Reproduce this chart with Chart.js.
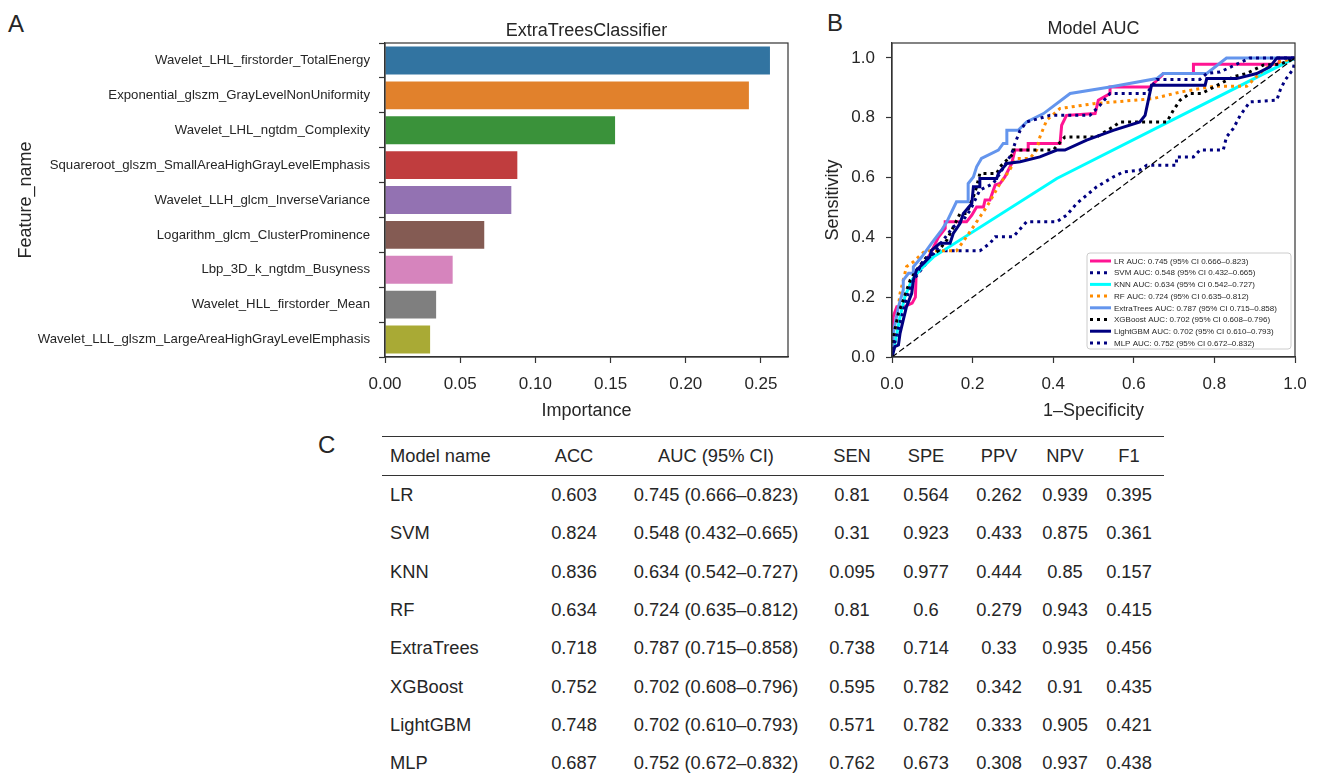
<!DOCTYPE html>
<html>
<head>
<meta charset="utf-8">
<script src="https://cdn.jsdelivr.net/npm/chart.js@4.4.1/dist/chart.umd.min.js"></script>
<style>
    body { margin: 0; background: #fff; width: 1320px; height: 775px; overflow: hidden; position: relative;
           font-family: "Liberation Sans", Arial, sans-serif; color: #262626; }
    .painel { position: absolute; font-size: 24px; line-height: 24px; }
    #caixaA { position: absolute; left: 0; top: 0; width: 800px; height: 430px; }
    #caixaB { position: absolute; left: 800px; top: 0; width: 520px; height: 430px; }
    #tabela { position: absolute; left: 382px; top: 436px; border-collapse: collapse; table-layout: fixed;
              font-size: 18.3px; border-top: 1.3px solid #333; }
    #tabela th, #tabela td { height: 38.3px; padding: 0; text-align: center; font-weight: normal; white-space: nowrap; }
    #tabela th { border-bottom: 1px solid #333; height: 38px; }
    #tabela .nome { text-align: left; padding-left: 8px; }
</style>
</head>
<body>
<div class="painel" style="left:8px; top:12px;">A</div>
<div class="painel" style="left:827px; top:11px;">B</div>
<div class="painel" style="left:318px; top:433px;">C</div>
<div id="caixaA"><canvas id="graficoA" width="800" height="430"></canvas></div>
<div id="caixaB"><canvas id="graficoB" width="520" height="430"></canvas></div>
<table id="tabela">
    <colgroup>
        <col style="width:148px"><col style="width:88px"><col style="width:196px"><col style="width:76px">
        <col style="width:72px"><col style="width:74px"><col style="width:58px"><col style="width:70px">
    </colgroup>
    <thead><tr id="cabecalho"></tr></thead>
    <tbody id="corpo"></tbody>
</table>
<script>
// ---- painel A: importancia das features
const features = [
    'Wavelet_LHL_firstorder_TotalEnergy',
    'Exponential_glszm_GrayLevelNonUniformity',
    'Wavelet_LHL_ngtdm_Complexity',
    'Squareroot_glszm_SmallAreaHighGrayLevelEmphasis',
    'Wavelet_LLH_glcm_InverseVariance',
    'Logarithm_glcm_ClusterProminence',
    'Lbp_3D_k_ngtdm_Busyness',
    'Wavelet_HLL_firstorder_Mean',
    'Wavelet_LLL_glszm_LargeAreaHighGrayLevelEmphasis'
];
const importancias = [0.256, 0.242, 0.153, 0.088, 0.084, 0.066, 0.045, 0.034, 0.030];
const ticksImportancia = [0, 0.05, 0.10, 0.15, 0.20, 0.25];

// ---- painel B: curvas ROC [1-especificidade, sensibilidade]
const curvaLR = [[0,0],[0.003,0.135],[0.012,0.168],[0.03,0.168],[0.05,0.18],[0.058,0.2],[0.06,0.28],[0.075,0.3],
    [0.095,0.345],[0.115,0.4],[0.132,0.43],[0.132,0.452],[0.185,0.452],[0.198,0.474],[0.21,0.502],[0.227,0.502],
    [0.231,0.525],[0.243,0.525],[0.256,0.575],[0.268,0.58],[0.28,0.602],[0.297,0.647],[0.305,0.692],[0.338,0.692],
    [0.338,0.714],[0.417,0.714],[0.421,0.775],[0.433,0.808],[0.504,0.814],[0.512,0.859],[0.541,0.881],[0.541,0.903],
    [0.64,0.903],[0.67,0.942],[0.673,0.948],[0.748,0.948],[0.748,0.979],[0.959,0.979],[0.963,1],[1,1]];
const curvaSVM = [[0,0],[0.003,0.035],[0.016,0.079],[0.024,0.168],[0.036,0.213],[0.053,0.257],[0.078,0.302],
    [0.111,0.355],[0.218,0.355],[0.243,0.38],[0.256,0.402],[0.301,0.402],[0.334,0.452],[0.409,0.452],[0.433,0.474],
    [0.458,0.513],[0.508,0.569],[0.549,0.602],[0.574,0.619],[0.615,0.625],[0.632,0.641],[0.706,0.641],[0.706,0.669],
    [0.748,0.669],[0.764,0.692],[0.822,0.692],[0.83,0.736],[0.847,0.764],[0.864,0.808],[0.888,0.853],[0.955,0.859],
    [0.963,0.892],[0.975,0.925],[0.996,0.964],[1,1]];
const curvaKNN = [[0,0],[0.003,0.018],[0.012,0.079],[0.02,0.135],[0.032,0.202],[0.049,0.257],[0.069,0.291],
    [0.103,0.335],[0.409,0.597],[1,1]];
const curvaRF = [[0,0],[0.007,0.09],[0.016,0.168],[0.02,0.213],[0.028,0.257],[0.036,0.302],[0.053,0.318],
    [0.082,0.355],[0.16,0.355],[0.185,0.402],[0.21,0.452],[0.235,0.502],[0.268,0.58],[0.289,0.619],[0.309,0.664],
    [0.342,0.664],[0.359,0.692],[0.367,0.736],[0.384,0.792],[0.417,0.831],[0.5,0.847],[0.648,0.864],[0.715,0.886],
    [0.797,0.905],[0.88,0.905],[0.921,0.959],[0.946,0.981],[1,1]];
const curvaExtraTrees = [[0,0],[0.003,0.079],[0.016,0.168],[0.028,0.224],[0.028,0.257],[0.041,0.28],[0.053,0.28],
    [0.053,0.302],[0.074,0.335],[0.098,0.38],[0.123,0.424],[0.136,0.452],[0.16,0.519],[0.189,0.519],[0.189,0.58],
    [0.202,0.602],[0.21,0.636],[0.222,0.664],[0.264,0.692],[0.276,0.714],[0.285,0.714],[0.285,0.758],[0.313,0.758],
    [0.334,0.786],[0.376,0.814],[0.442,0.881],[0.541,0.903],[0.657,0.931],[0.673,0.948],[0.781,0.948],[0.83,1],[1,1]];
const curvaXGBoost = [[0,0],[0.005,0.079],[0.016,0.146],[0.028,0.19],[0.045,0.257],[0.061,0.291],[0.086,0.335],
    [0.115,0.355],[0.136,0.391],[0.169,0.48],[0.185,0.48],[0.202,0.536],[0.21,0.569],[0.218,0.614],[0.26,0.614],
    [0.268,0.636],[0.301,0.68],[0.301,0.692],[0.4,0.692],[0.429,0.736],[0.508,0.736],[0.549,0.77],[0.566,0.786],
    [0.682,0.786],[0.698,0.825],[0.715,0.859],[0.739,0.881],[0.768,0.881],[0.847,0.937],[0.88,0.948],[0.921,0.976],
    [0.963,0.979],[1,1]];
const curvaLightGBM = [[0,0],[0.007,0.035],[0.016,0.04],[0.02,0.079],[0.028,0.124],[0.036,0.168],[0.049,0.213],
    [0.053,0.257],[0.061,0.291],[0.078,0.313],[0.094,0.335],[0.098,0.357],[0.119,0.38],[0.144,0.38],[0.152,0.413],
    [0.169,0.447],[0.177,0.48],[0.198,0.513],[0.202,0.569],[0.218,0.569],[0.218,0.597],[0.26,0.597],[0.264,0.614],
    [0.285,0.647],[0.318,0.653],[0.367,0.669],[0.409,0.692],[0.429,0.692],[0.483,0.725],[0.549,0.758],[0.615,0.786],
    [0.628,0.808],[0.644,0.909],[0.777,0.909],[0.781,0.931],[0.855,0.931],[0.905,0.948],[0.938,0.97],[0.955,1],[1,1]];
const curvaMLP = [[0,0],[0.003,0.029],[0.012,0.079],[0.024,0.135],[0.032,0.179],[0.045,0.229],[0.053,0.257],
    [0.066,0.291],[0.078,0.324],[0.103,0.346],[0.127,0.391],[0.152,0.435],[0.177,0.458],[0.194,0.491],[0.218,0.558],
    [0.251,0.58],[0.268,0.614],[0.297,0.68],[0.305,0.714],[0.318,0.758],[0.334,0.786],[0.392,0.808],[0.491,0.808],
    [0.516,0.842],[0.541,0.881],[0.632,0.881],[0.657,0.928],[0.764,0.928],[0.781,0.948],[0.814,0.953],[0.888,1],[1,1]];
const diagonal = [[0,0],[1,1]];
const ticksROC = [0, 0.2, 0.4, 0.6, 0.8, 1.0];

// ---- painel C: tabela de metricas
const nomesModelos = ['LR', 'SVM', 'KNN', 'RF', 'ExtraTrees', 'XGBoost', 'LightGBM', 'MLP'];
const colunasTabela = ['Model name', 'ACC', 'AUC (95% CI)', 'SEN', 'SPE', 'PPV', 'NPV', 'F1'];
const acc = ['0.603', '0.824', '0.836', '0.634', '0.718', '0.752', '0.748', '0.687'];
const aucIC = ['0.745 (0.666–0.823)', '0.548 (0.432–0.665)', '0.634 (0.542–0.727)', '0.724 (0.635–0.812)',
               '0.787 (0.715–0.858)', '0.702 (0.608–0.796)', '0.702 (0.610–0.793)', '0.752 (0.672–0.832)'];
const sen = ['0.81', '0.31', '0.095', '0.81', '0.738', '0.595', '0.571', '0.762'];
const spe = ['0.564', '0.923', '0.977', '0.6', '0.714', '0.782', '0.782', '0.673'];
const ppv = ['0.262', '0.433', '0.444', '0.279', '0.33', '0.342', '0.333', '0.308'];
const npv = ['0.939', '0.875', '0.85', '0.943', '0.935', '0.91', '0.905', '0.937'];
const f1 = ['0.395', '0.361', '0.157', '0.415', '0.456', '0.435', '0.421', '0.438'];

const FONTE = '"Liberation Sans", Arial, sans-serif';
const COR_TEXTO = '#262626';
const COR_EIXO = '#333333';

// tab10 dessaturado (paleta do seaborn)
const coresBarras = ['#3274a1', '#e1812c', '#3a923a', '#c03d3e', '#9372b2', '#845b53', '#d684bd', '#7f7f7f', '#a9aa35'];

// estilo de cada curva, na ordem de nomesModelos
const estilos = [
    { cor: '#ff1493', pontilhado: false },
    { cor: '#000080', pontilhado: true },
    { cor: '#00ffff', pontilhado: false },
    { cor: '#ff8c00', pontilhado: true },
    { cor: '#6495ed', pontilhado: false },
    { cor: '#000000', pontilhado: true },
    { cor: '#000080', pontilhado: false },
    { cor: '#000080', pontilhado: true }
];
const curvas = [curvaLR, curvaSVM, curvaKNN, curvaRF, curvaExtraTrees, curvaXGBoost, curvaLightGBM, curvaMLP];
const TRACO = [3, 4];

// moldura em volta da area do grafico
const moldura = {
    id: 'moldura',
    afterDatasetsDraw(chart) {
        const { ctx, chartArea: a } = chart;
        ctx.save();
        ctx.strokeStyle = COR_EIXO;
        ctx.lineWidth = 1.2;
        ctx.strokeRect(a.left, a.top, a.right - a.left, a.bottom - a.top);
        ctx.restore();
    }
};

// legenda dentro do grafico, canto inferior direito
const legendaInterna = {
    id: 'legendaInterna',
    afterDraw(chart) {
        const { ctx, chartArea: a } = chart;
        const largura = 204, altura = 96;
        const x0 = a.right - 4 - largura;
        const y0 = a.bottom - 8 - altura;
        ctx.save();
        ctx.beginPath();
        ctx.roundRect(x0, y0, largura, altura, 3);
        ctx.fillStyle = 'rgba(255,255,255,0.85)';
        ctx.fill();
        ctx.strokeStyle = '#cccccc';
        ctx.lineWidth = 1;
        ctx.stroke();
        ctx.font = '8px ' + FONTE;
        ctx.textBaseline = 'middle';
        nomesModelos.forEach((nome, i) => {
            const y = y0 + 8 + i * 11.7;
            const est = estilos[i];
            ctx.strokeStyle = est.cor;
            ctx.lineWidth = 3;
            ctx.lineCap = 'butt';
            ctx.setLineDash(est.pontilhado ? TRACO : []);
            ctx.beginPath();
            ctx.moveTo(x0 + 3, y);
            ctx.lineTo(x0 + 24, y);
            ctx.stroke();
            ctx.setLineDash([]);
            ctx.fillStyle = COR_TEXTO;
            ctx.fillText(nome + ' AUC: ' + aucIC[i].replace('(', '(95% CI '), x0 + 27, y + 0.5);
        });
        ctx.restore();
    }
};

function eixoComum(extra) {
    return Object.assign({
        grid: { drawOnChartArea: false, drawTicks: true, tickLength: 6, tickColor: COR_EIXO, tickWidth: 1.2 },
        border: { display: true, color: COR_EIXO, width: 1.2 }
    }, extra);
}

function graficoImportancia() {
    const ctx = document.getElementById('graficoA').getContext('2d');
    new Chart(ctx, {
        type: 'bar',
        data: {
            labels: features,
            datasets: [{
                data: importancias,
                backgroundColor: coresBarras,
                borderWidth: 0,
                barPercentage: 0.8,
                categoryPercentage: 1
            }]
        },
        options: {
            indexAxis: 'y',
            responsive: false,
            animation: false,
            layout: { padding: { left: 0, right: 12, top: 0, bottom: 0 } },
            plugins: {
                legend: { display: false },
                tooltip: { enabled: false },
                title: {
                    display: true, text: 'ExtraTreesClassifier', fullSize: false, color: COR_TEXTO,
                    font: { family: FONTE, size: 18, weight: 'normal' }, padding: { top: 20, bottom: 1.4 }
                }
            },
            scales: {
                x: eixoComum({
                    type: 'linear', min: 0, max: 0.268,
                    afterBuildTicks: s => { s.ticks = ticksImportancia.map(v => ({ value: v })); },
                    afterFit: s => { s.height = 73; },
                    ticks: { callback: v => v.toFixed(2), color: COR_TEXTO, font: { family: FONTE, size: 17 }, padding: 11, maxRotation: 0 },
                    title: { display: true, text: 'Importance', color: COR_TEXTO, font: { family: FONTE, size: 18 }, padding: { bottom: 8 } }
                }),
                y: eixoComum({
                    afterFit: s => { s.width = 385; },
                    ticks: { color: COR_TEXTO, font: { family: FONTE, size: 13.2 }, padding: 9, autoSkip: false },
                    title: { display: true, text: 'Feature_name', color: COR_TEXTO, font: { family: FONTE, size: 18 }, padding: { top: 15 } }
                })
            }
        },
        plugins: [moldura]
    });
}

function graficoROC() {
    const ctx = document.getElementById('graficoB').getContext('2d');
    const datasets = curvas.map((curva, i) => ({
        label: nomesModelos[i],
        data: curva.map(([x, y]) => ({ x, y })),
        borderColor: estilos[i].cor,
        borderWidth: 3,
        borderDash: estilos[i].pontilhado ? TRACO : [],
        borderCapStyle: 'butt',
        showLine: true,
        pointRadius: 0,
        tension: 0,
        order: 20 - i
    }));
    datasets.push({
        label: 'diagonal',
        data: diagonal.map(([x, y]) => ({ x, y })),
        borderColor: '#000000',
        borderWidth: 1.2,
        borderDash: [6, 3],
        showLine: true,
        pointRadius: 0,
        order: 0
    });
    new Chart(ctx, {
        type: 'scatter',
        data: { datasets: datasets },
        options: {
            responsive: false,
            animation: false,
            layout: { padding: { left: 0, right: 25, top: 0, bottom: 0 } },
            plugins: {
                legend: { display: false },
                tooltip: { enabled: false },
                title: {
                    display: true, text: 'Model AUC', fullSize: false, color: COR_TEXTO,
                    font: { family: FONTE, size: 18, weight: 'normal' }, padding: { top: 18, bottom: 3.4 }
                }
            },
            scales: {
                x: eixoComum({
                    type: 'linear', min: 0, max: 1,
                    afterBuildTicks: s => { s.ticks = ticksROC.map(v => ({ value: v })); },
                    afterFit: s => { s.height = 73; },
                    ticks: { callback: v => v.toFixed(1), color: COR_TEXTO, font: { family: FONTE, size: 17 }, padding: 11, maxRotation: 0 },
                    title: { display: true, text: '1–Specificity', color: COR_TEXTO, font: { family: FONTE, size: 18 }, padding: { bottom: 8 } }
                }),
                y: eixoComum({
                    type: 'linear', min: 0, max: 1.05,
                    afterBuildTicks: s => { s.ticks = ticksROC.map(v => ({ value: v })); },
                    afterFit: s => { s.width = 92; },
                    ticks: { callback: v => v.toFixed(1), color: COR_TEXTO, font: { family: FONTE, size: 17 }, padding: 11 },
                    title: { display: true, text: 'Sensitivity', color: COR_TEXTO, font: { family: FONTE, size: 18 }, padding: { top: 22 } }
                })
            }
        },
        plugins: [moldura, legendaInterna]
    });
}

function montarTabela() {
    const cab = document.getElementById('cabecalho');
    colunasTabela.forEach((c, i) => {
        const th = document.createElement('th');
        th.textContent = c;
        if (i === 0) th.className = 'nome';
        cab.appendChild(th);
    });
    const corpo = document.getElementById('corpo');
    nomesModelos.forEach((nome, i) => {
        const tr = document.createElement('tr');
        [nome, acc[i], aucIC[i], sen[i], spe[i], ppv[i], npv[i], f1[i]].forEach((v, j) => {
            const td = document.createElement('td');
            td.textContent = v;
            if (j === 0) td.className = 'nome';
            tr.appendChild(td);
        });
        corpo.appendChild(tr);
    });
}

montarTabela();
graficoImportancia();
graficoROC();
</script>
</body>
</html>
